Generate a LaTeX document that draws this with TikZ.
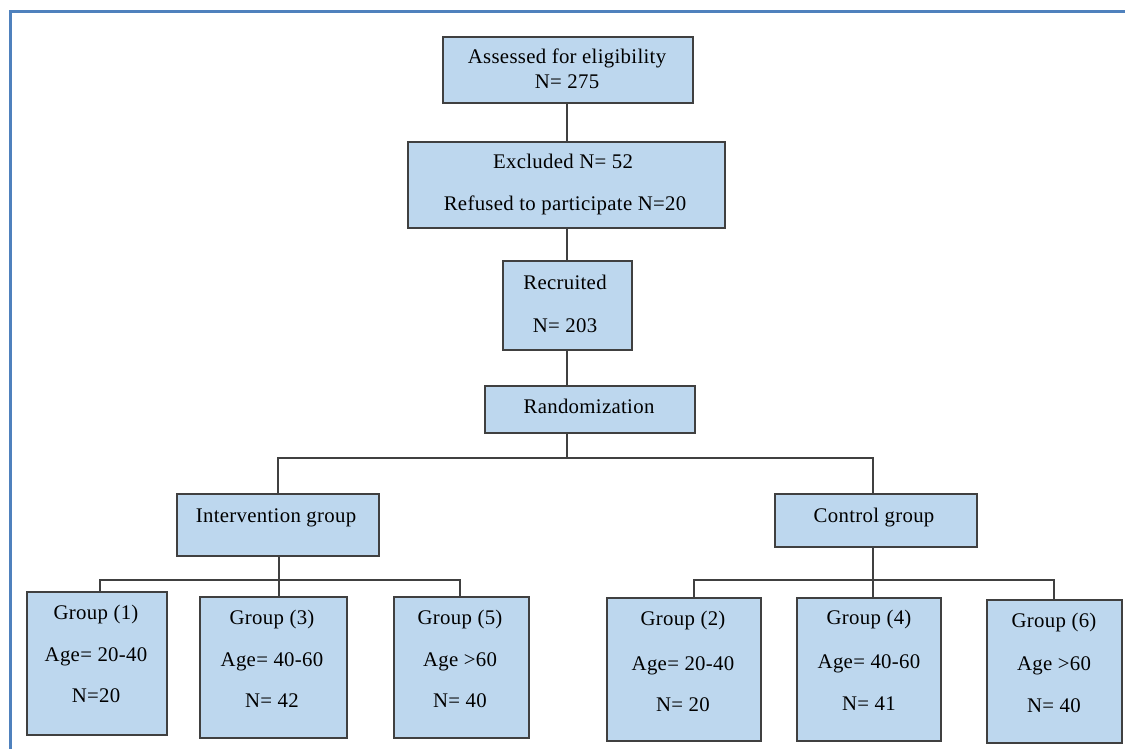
\documentclass[tikz,border=0pt]{standalone}
\usepackage{fontspec}
\setmainfont{Liberation Serif}[LetterSpace=1.5]
\definecolor{boxfill}{HTML}{BDD7EE}
\definecolor{boxline}{HTML}{404040}
\definecolor{framecol}{HTML}{4F81BD}
\begin{document}
\begin{tikzpicture}[x=1pt,y=-1pt,
  bx/.style={draw=boxline, fill=boxfill, line width=1.4pt, inner sep=0pt},
  tx/.style={font=\fontsize{20.8}{24}\selectfont, inner sep=0pt, anchor=base},
  ln/.style={draw=boxline, line width=1.4pt}]
\useasboundingbox (0,0) rectangle (1125,749);
\fill[white] (0,0) rectangle (1125,749);
\draw[framecol, line width=3pt] (10,749) -- (10,12) -- (1125,12);
% boxes
\node[bx, minimum width=250, minimum height=66] (A) at (568,70) {};
\node[bx, minimum width=317, minimum height=86] (E) at (566.5,185) {};
\node[bx, minimum width=129, minimum height=89] (R) at (567.5,305.5) {};
\node[bx, minimum width=210, minimum height=47] (Z) at (590,409.5) {};
\node[bx, minimum width=202, minimum height=62] (I) at (278,525) {};
\node[bx, minimum width=202, minimum height=53] (C) at (876,520.5) {};
\node[bx, minimum width=140, minimum height=143] (G1) at (97,663.5) {};
\node[bx, minimum width=147, minimum height=141] (G3) at (273.5,667.5) {};
\node[bx, minimum width=135, minimum height=141] (G5) at (461.5,667.5) {};
\node[bx, minimum width=154, minimum height=143] (G2) at (684,669.5) {};
\node[bx, minimum width=144, minimum height=143] (G4) at (869,669.5) {};
\node[bx, minimum width=135, minimum height=143] (G6) at (1054.5,671.5) {};
% texts
\node[tx] (tA1) at (567,64) {Assessed for eligibility};
\node[tx] (tA2) at (567,89) {N= 275};
\node[tx] (tE1) at (563,169) {Excluded N= 52};
\node[tx] (tE2) at (565,211) {Refused to participate N=20};
\node[tx] (tR1) at (565,289) {Recruited};
\node[tx] (tR2) at (565,332) {N= 203};
\node[tx] (tZ) at (589,413) {Randomization};
\node[tx] (tI) at (276,522) {Intervention group};
\node[tx] (tC) at (874,522) {Control group};
\node[tx] (t11) at (96,619) {Group (1)};
\node[tx] (t12) at (96,661) {Age= 20-40};
\node[tx] (t13) at (96,702) {N=20};
\node[tx] (t31) at (272,624) {Group (3)};
\node[tx] (t32) at (272,666) {Age= 40-60};
\node[tx] (t33) at (272,707) {N= 42};
\node[tx] (t51) at (460,624) {Group (5)};
\node[tx] (t52) at (460,666) {Age >60};
\node[tx] (t53) at (460,707) {N= 40};
\node[tx] (t21) at (683,625) {Group (2)};
\node[tx] (t22) at (683,670) {Age= 20-40};
\node[tx] (t23) at (683,711) {N= 20};
\node[tx] (t41) at (869,624) {Group (4)};
\node[tx] (t42) at (869,668) {Age= 40-60};
\node[tx] (t43) at (869,710) {N= 41};
\node[tx] (t61) at (1054,627) {Group (6)};
\node[tx] (t62) at (1054,670) {Age >60};
\node[tx] (t63) at (1054,712) {N= 40};
% connectors
\coordinate (b1L) at (278,458);
\coordinate (b1R) at (873,458);
\coordinate (b1M) at (567,458);
\coordinate (b2L) at (100,580);
\coordinate (b2M) at (279,580);
\coordinate (b2R) at (460,580);
\coordinate (b3L) at (694,580);
\coordinate (b3M) at (873,580);
\coordinate (b3R) at (1054,580);
\draw[ln] (A.south -| 567,0) -- (E.north -| 567,0);
\draw[ln] (E.south -| 567,0) -- (R.north -| 567,0);
\draw[ln] (R.south -| 567,0) -- (Z.north -| 567,0);
\draw[ln] (Z.south -| b1M) -- (b1M);
\draw[ln] (I.north -| b1L) -- (b1L) -- (b1R) -- (C.north -| b1R);
\draw[ln] (I.south -| b2M) -- (b2M);
\draw[ln] (G1.north -| b2L) -- (b2L) -- (b2R) -- (G5.north -| b2R);
\draw[ln] (b2M) -- (G3.north -| b2M);
\draw[ln] (C.south -| b3M) -- (b3M);
\draw[ln] (G2.north -| b3L) -- (b3L) -- (b3R) -- (G6.north -| b3R);
\draw[ln] (b3M) -- (G4.north -| b3M);
\end{tikzpicture}
\end{document}
